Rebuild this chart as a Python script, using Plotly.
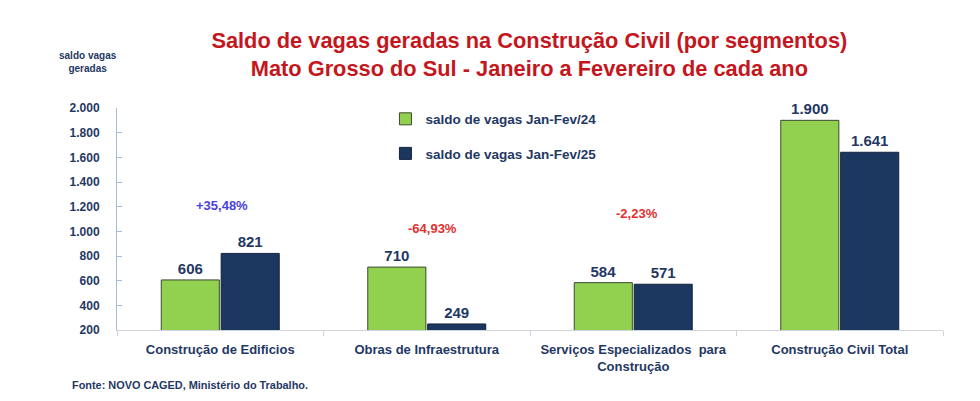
import plotly.graph_objects as go

# segmentos e saldo de vagas (Jan-Fev)
categorias = ["Construção de Edificios", "Obras de Infraestrutura",
              "Serviços Especializados  para<br>Construção", "Construção Civil Total"]
vagas_24 = [606, 710, 584, 1900]
vagas_25 = [821, 249, 571, 1641]
variacao = ["+35,48%", "-64,93%", "-2,23%", "-13,63%"]
nome_24 = "saldo de vagas Jan-Fev/24"
nome_25 = "saldo de vagas Jan-Fev/25"

navy = "#1F3864"
verde = "#92D050"
azul_esc = "#1B365F"
fonte = "Liberation Sans"

fig = go.Figure()

fig.add_trace(go.Bar(
    x=categorias, y=vagas_24, name=nome_24, legendgroup="a",
    marker=dict(color=verde, line=dict(color="#3a4a30", width=1)),
    text=[f"<b>{v:,}</b>".replace(",", ".") for v in vagas_24],
    textposition="outside", cliponaxis=False,
    textfont=dict(family=fonte, size=15, color=navy),
))
fig.add_trace(go.Bar(
    x=categorias, y=vagas_25, name=nome_25, legendgroup="b",
    marker=dict(color=azul_esc, line=dict(color="#14243c", width=1)),
    text=[f"<b>{v:,}</b>".replace(",", ".") for v in vagas_25],
    textposition="outside", cliponaxis=False,
    textfont=dict(family=fonte, size=15, color=navy),
))

# posicao das variacoes (y em unidades do eixo) e cores
pct_y = [1206, 1027, 1141, 2163]
pct_cor = ["#4A3FE0", "#E0312F", "#E0312F", "#E0312F"]
pct_dx = [2, 6, 4, 15]
for cat, txt, yy, cor, dx in zip(categorias, variacao, pct_y, pct_cor, pct_dx):
    fig.add_annotation(x=cat, y=yy, text=f"<b>{txt}</b>", showarrow=False, xshift=dx,
                       font=dict(family=fonte, size=13, color=cor))

fig.add_annotation(xref="paper", yref="paper", x=-0.035, y=1.146,
                   text="<b>saldo vagas<br>geradas</b>", showarrow=False, align="center",
                   xanchor="center", yanchor="bottom",
                   font=dict(family=fonte, size=10, color=navy))
fig.add_annotation(xref="paper", yref="paper", x=-0.057, y=-0.213,
                   text="<b>Fonte: NOVO CAGED, Ministério do Trabalho.</b>",
                   showarrow=False, xanchor="left", yanchor="top",
                   font=dict(family=fonte, size=10.9, color=navy))

fig.update_layout(
    width=980, height=401,
    margin=dict(l=109, r=45, t=100, b=79),
    paper_bgcolor="white", plot_bgcolor="white",
    separators=",.",
    title=dict(
        text="<b>Saldo de vagas geradas na Construção Civil (por segmentos)<br>Mato Grosso do Sul - Janeiro a Fevereiro de cada ano</b>",
        x=0.532, xanchor="center", y=0.9, yanchor="top",
        font=dict(family=fonte, size=21.8, color="#C4161C"),
    ),
    barmode="group", bargap=0.42, bargroupgap=0.03,
    legend=dict(x=0.325, y=1.02, xanchor="left", yanchor="top",
                bgcolor="rgba(0,0,0,0)", traceorder="grouped", tracegroupgap=14,
                font=dict(family=fonte, size=13.5, color=navy)),
    showlegend=True,
)
fig.update_xaxes(
    showline=True, linecolor="#D0D4DA", linewidth=1,
    ticks="outside", tickson="boundaries", ticklen=5, tickcolor="#D0D4DA",
    tickfont=dict(family=fonte, size=13, color=navy),
    ticklabelstandoff=7,
)
fig.update_yaxes(
    range=[200, 2000], tickvals=list(range(200, 2001, 200)),
    tickformat=",d", showgrid=False, zeroline=False,
    showline=True, linecolor="#A9BCD6", linewidth=1,
    ticks="inside", ticklen=5, tickcolor="#A9BCD6",
    tickfont=dict(family=fonte, size=12, color=navy),
    ticklabelstandoff=14,
)
fig.for_each_xaxis(lambda a: a.update(tickfont=dict(weight="bold")))
fig.for_each_yaxis(lambda a: a.update(tickfont=dict(weight="bold")))
fig.update_layout(legend_font_weight="bold")

fig.write_html("out.html")
